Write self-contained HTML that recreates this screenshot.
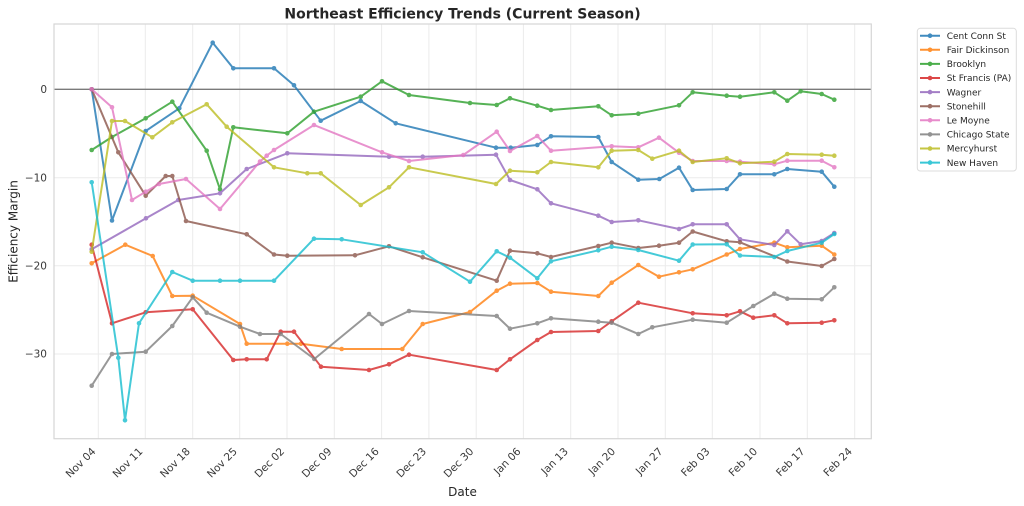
<!DOCTYPE html>
<html><head><meta charset="utf-8"><style>
html,body{margin:0;padding:0;background:#fff;}
svg{display:block;font-family:"DejaVu Sans","Liberation Sans",sans-serif;}
</style></head><body>
<svg width="1024" height="506" viewBox="0 0 1024 506" xmlns="http://www.w3.org/2000/svg">
<defs>
<marker id="mA" markerUnits="userSpaceOnUse" markerWidth="6" markerHeight="6" refX="3" refY="3"><circle cx="3" cy="3" r="2.3" fill="#1f77b4"/></marker>
<marker id="mB" markerUnits="userSpaceOnUse" markerWidth="6" markerHeight="6" refX="3" refY="3"><circle cx="3" cy="3" r="2.3" fill="#ff7f0e"/></marker>
<marker id="mC" markerUnits="userSpaceOnUse" markerWidth="6" markerHeight="6" refX="3" refY="3"><circle cx="3" cy="3" r="2.3" fill="#2ca02c"/></marker>
<marker id="mD" markerUnits="userSpaceOnUse" markerWidth="6" markerHeight="6" refX="3" refY="3"><circle cx="3" cy="3" r="2.3" fill="#d62728"/></marker>
<marker id="mE" markerUnits="userSpaceOnUse" markerWidth="6" markerHeight="6" refX="3" refY="3"><circle cx="3" cy="3" r="2.3" fill="#9467bd"/></marker>
<marker id="mF" markerUnits="userSpaceOnUse" markerWidth="6" markerHeight="6" refX="3" refY="3"><circle cx="3" cy="3" r="2.3" fill="#8c564b"/></marker>
<marker id="mG" markerUnits="userSpaceOnUse" markerWidth="6" markerHeight="6" refX="3" refY="3"><circle cx="3" cy="3" r="2.3" fill="#e377c2"/></marker>
<marker id="mH" markerUnits="userSpaceOnUse" markerWidth="6" markerHeight="6" refX="3" refY="3"><circle cx="3" cy="3" r="2.3" fill="#7f7f7f"/></marker>
<marker id="mI" markerUnits="userSpaceOnUse" markerWidth="6" markerHeight="6" refX="3" refY="3"><circle cx="3" cy="3" r="2.3" fill="#bcbd22"/></marker>
<marker id="mJ" markerUnits="userSpaceOnUse" markerWidth="6" markerHeight="6" refX="3" refY="3"><circle cx="3" cy="3" r="2.3" fill="#17becf"/></marker>
</defs>

<!-- title -->
<text x="462.5" y="18.5" text-anchor="middle" font-size="14" font-weight="bold" fill="#262626">Northeast Efficiency Trends (Current Season)</text>

<!-- grid -->
<g stroke="#ebebeb" stroke-width="1">
<line x1="98.3" y1="24" x2="98.3" y2="438.7"/>
<line x1="145.3" y1="24" x2="145.3" y2="438.7"/>
<line x1="192.7" y1="24" x2="192.7" y2="438.7"/>
<line x1="239.7" y1="24" x2="239.7" y2="438.7"/>
<line x1="287" y1="24" x2="287" y2="438.7"/>
<line x1="334.3" y1="24" x2="334.3" y2="438.7"/>
<line x1="381.6" y1="24" x2="381.6" y2="438.7"/>
<line x1="428.9" y1="24" x2="428.9" y2="438.7"/>
<line x1="476.2" y1="24" x2="476.2" y2="438.7"/>
<line x1="523.4" y1="24" x2="523.4" y2="438.7"/>
<line x1="570.7" y1="24" x2="570.7" y2="438.7"/>
<line x1="618" y1="24" x2="618" y2="438.7"/>
<line x1="665.3" y1="24" x2="665.3" y2="438.7"/>
<line x1="712.3" y1="24" x2="712.3" y2="438.7"/>
<line x1="760" y1="24" x2="760" y2="438.7"/>
<line x1="807.3" y1="24" x2="807.3" y2="438.7"/>
<line x1="854.7" y1="24" x2="854.7" y2="438.7"/>
<line x1="54" y1="177.7" x2="871.3" y2="177.7"/>
<line x1="54" y1="265.7" x2="871.3" y2="265.7"/>
<line x1="54" y1="354" x2="871.3" y2="354"/>
</g>
<line x1="54" y1="89.3" x2="871.3" y2="89.3" stroke="#7a7a7a" stroke-width="1.3"/>

<!-- spines -->
<rect x="54" y="24" width="817.3" height="414.7" fill="none" stroke="#d6d6d6" stroke-width="1.2"/>

<!-- y ticks -->
<g font-size="10.5" fill="#3a3a3a" text-anchor="end">
<text x="47" y="93">0</text>
<text x="47" y="181.4">−10</text>
<text x="47" y="269.4">−20</text>
<text x="47" y="357.7">−30</text>
</g>
<text transform="translate(17.5,231.5) rotate(-90)" text-anchor="middle" font-size="12" fill="#262626">Efficiency Margin</text>

<!-- x ticks -->
<g font-size="10.5" fill="#3a3a3a" text-anchor="end">
<text transform="translate(96.3,452) rotate(-45)">Nov 04</text>
<text transform="translate(143.3,452) rotate(-45)">Nov 11</text>
<text transform="translate(190.7,452) rotate(-45)">Nov 18</text>
<text transform="translate(237.7,452) rotate(-45)">Nov 25</text>
<text transform="translate(285,452) rotate(-45)">Dec 02</text>
<text transform="translate(332.3,452) rotate(-45)">Dec 09</text>
<text transform="translate(379.6,452) rotate(-45)">Dec 16</text>
<text transform="translate(426.9,452) rotate(-45)">Dec 23</text>
<text transform="translate(474.2,452) rotate(-45)">Dec 30</text>
<text transform="translate(521.4,452) rotate(-45)">Jan 06</text>
<text transform="translate(568.7,452) rotate(-45)">Jan 13</text>
<text transform="translate(616,452) rotate(-45)">Jan 20</text>
<text transform="translate(663.3,452) rotate(-45)">Jan 27</text>
<text transform="translate(710.3,452) rotate(-45)">Feb 03</text>
<text transform="translate(758,452) rotate(-45)">Feb 10</text>
<text transform="translate(805.3,452) rotate(-45)">Feb 17</text>
<text transform="translate(852.7,452) rotate(-45)">Feb 24</text>
</g>
<text x="462.5" y="496" text-anchor="middle" font-size="12" fill="#262626">Date</text>

<!-- series -->
<g fill="none" stroke-width="2" stroke-linejoin="round">
<g opacity="0.8"><polyline stroke="#1f77b4" marker-start="url(#mA)" marker-mid="url(#mA)" marker-end="url(#mA)" points="91.7,89.3 112,220.5 145.7,131 179.3,108.3 212.7,42.7 233.3,68.3 274,68.3 294,85.3 320.7,120.7 360.7,101 395.7,123.3 496,147.7 510.7,147.7 537.3,145 551,136.3 598.3,137 611.7,162 638.3,179.7 659.3,179 679,167.7 692.7,190 726.7,189 740,174.3 774.3,174.3 787.3,169 821.7,171.7 834.3,186.7"/></g>
<g opacity="0.8"><polyline stroke="#ff7f0e" marker-start="url(#mB)" marker-mid="url(#mB)" marker-end="url(#mB)" points="91.7,263.3 125.3,244.7 152.7,256 172.3,296 192.7,295.7 240,324 246.7,343.7 287.3,343.7 301,343.7 341.7,349 402.3,349 422.7,324 470,312 496.7,290.7 510,283.7 537.3,283 551,291.7 598.3,296 611.7,282.7 638.3,265 659,276.7 679,272.3 692.7,269.3 726.7,254.5 740,249 774.3,242.7 787.3,247.3 821.7,245.7 834.3,254.5"/></g>
<g opacity="0.8"><polyline stroke="#2ca02c" marker-start="url(#mC)" marker-mid="url(#mC)" marker-end="url(#mC)" points="91.7,150 112,137 145.7,118.3 172.3,101.7 206.7,150.7 220,189.3 233.3,127.3 287.3,133.3 314,111.7 360.7,96.7 382,81.3 409,95 470,103 496.7,105 510,98.3 537.3,105.7 551,110 598.3,106.3 611.7,115.3 638.3,113.7 679,105.3 692.7,92.3 726.7,95.7 740,96.7 774.3,92.3 787.3,100.7 800.7,91.3 821.7,94 834.3,99.7"/></g>
<g opacity="0.8"><polyline stroke="#d62728" marker-start="url(#mD)" marker-mid="url(#mD)" marker-end="url(#mD)" points="91.7,244.7 112,323.3 145.7,312.3 192.7,309.3 233.3,360 246.7,359.3 266.7,359.3 280.7,331.7 294,331.7 321,366.7 369,370 389,364.3 409,354.7 496.7,370 510,359.3 537.3,340 551,332 598.3,331 611.7,321.3 638.3,302.7 692.7,313.3 726.7,315.3 740,311.3 753.3,317.7 774.3,315.3 787.3,323.3 821.7,322.7 834.3,320.3"/></g>
<g opacity="0.8"><polyline stroke="#9467bd" marker-start="url(#mE)" marker-mid="url(#mE)" marker-end="url(#mE)" points="91.7,249.3 146,218.3 178.3,200 220,193.3 246.7,169 287.3,153.3 389,156.7 422.7,156.7 496,154.7 510,180 537.3,189.3 551,203.3 598.3,215.7 611.7,222 638.3,220.3 679,229 692.7,224.3 726.7,224.3 740,239.3 774.3,245 787.3,231.3 800.7,244.3 821.7,241 834.3,233"/></g>
<g opacity="0.8"><polyline stroke="#8c564b" marker-start="url(#mF)" marker-mid="url(#mF)" marker-end="url(#mF)" points="91.7,89.3 118.3,152.3 145.7,195.7 165.7,176 172.3,176 186,221 246.7,234.3 274,254.5 287.3,255.7 355,255.3 389,246.3 422.7,257.3 496.7,280.7 510,250.7 537.3,253.3 551,257 598.3,246 611.7,242.7 638.3,248 659,245.7 679,242.7 692.7,231.5 726.7,241.3 740,242.3 787.3,261.5 821.7,266 834.3,259"/></g>
<g opacity="0.8"><polyline stroke="#e377c2" marker-start="url(#mG)" marker-mid="url(#mG)" marker-end="url(#mG)" points="91.7,89.3 112,107.3 132,200 145.7,191.7 159,184 186,179 220,209 260,161.5 266.7,155.7 274,150 314,125 382,152.3 409,161 463.3,155 496.7,131.7 510,151 537.3,136 551,150.7 611.7,146.3 638.3,147.3 659,137.7 679,152.7 692.7,161 726.7,161 740,161.7 774.3,164.3 787.3,160.7 821.7,160.7 834.3,167.3"/></g>
<g opacity="0.8"><polyline stroke="#7f7f7f" marker-start="url(#mH)" marker-mid="url(#mH)" marker-end="url(#mH)" points="91.7,385.7 112,354 145.7,351.7 172.3,326 192.7,297.3 206.7,312.7 240,326.7 260,334 280.7,334 314.3,359 369,314 382,324 409,311 496.7,316 510,328.7 537.3,323.3 551,318.3 598.3,321.7 611.7,322.7 638.3,334 652.3,327.3 692.7,319.7 726.7,322.7 753.3,306 774.3,293.7 787.3,298.7 821.7,299.3 834.3,287.3"/></g>
<g opacity="0.8"><polyline stroke="#bcbd22" marker-start="url(#mI)" marker-mid="url(#mI)" marker-end="url(#mI)" points="91.7,251.7 112,121 125,121 152.3,137.3 172.3,122.3 206.7,104.3 226.7,126.7 274,167.3 307.3,173.3 320.7,173.3 360.7,205 389,187.3 409,167.3 496,184 510,170.7 537.3,172.3 551,162 598.3,167.3 611.7,150.7 638.3,150 652.3,158.7 679,150.7 692.7,162 726.7,158.3 740,163.3 774.3,161.7 787.3,154 821.7,154.7 834.3,155.7"/></g>
<g opacity="0.8"><polyline stroke="#17becf" marker-start="url(#mJ)" marker-mid="url(#mJ)" marker-end="url(#mJ)" points="91.7,182.3 118.3,357.7 125,420.3 139,323.3 172.3,272 192.7,280.7 220,280.7 240,280.7 274,280.7 314,238.7 341.7,239.3 422.7,252.3 470,281.7 496.7,251.3 510,257.7 537.3,278.3 551,261.3 598.3,250.3 611.7,246.7 638.3,250 679,260.7 692.7,244.5 726.7,244.3 740,255.5 774.3,257 787.3,251 821.7,242.7 834.3,234"/></g>
</g>

<!-- legend -->
<rect x="917.3" y="28.3" width="99" height="142.7" rx="3" fill="#fff" stroke="#dcdcdc" stroke-width="1"/>
<g stroke-width="2" opacity="0.85">
<line x1="920" y1="35.7" x2="940" y2="35.7" stroke="#1f77b4"/><circle cx="930" cy="35.7" r="2.3" fill="#1f77b4"/>
<line x1="920" y1="49.8" x2="940" y2="49.8" stroke="#ff7f0e"/><circle cx="930" cy="49.8" r="2.3" fill="#ff7f0e"/>
<line x1="920" y1="63.9" x2="940" y2="63.9" stroke="#2ca02c"/><circle cx="930" cy="63.9" r="2.3" fill="#2ca02c"/>
<line x1="920" y1="78" x2="940" y2="78" stroke="#d62728"/><circle cx="930" cy="78" r="2.3" fill="#d62728"/>
<line x1="920" y1="92.1" x2="940" y2="92.1" stroke="#9467bd"/><circle cx="930" cy="92.1" r="2.3" fill="#9467bd"/>
<line x1="920" y1="106.2" x2="940" y2="106.2" stroke="#8c564b"/><circle cx="930" cy="106.2" r="2.3" fill="#8c564b"/>
<line x1="920" y1="120.3" x2="940" y2="120.3" stroke="#e377c2"/><circle cx="930" cy="120.3" r="2.3" fill="#e377c2"/>
<line x1="920" y1="134.4" x2="940" y2="134.4" stroke="#7f7f7f"/><circle cx="930" cy="134.4" r="2.3" fill="#7f7f7f"/>
<line x1="920" y1="148.5" x2="940" y2="148.5" stroke="#bcbd22"/><circle cx="930" cy="148.5" r="2.3" fill="#bcbd22"/>
<line x1="920" y1="162.6" x2="940" y2="162.6" stroke="#17becf"/><circle cx="930" cy="162.6" r="2.3" fill="#17becf"/>
</g>
<g font-size="9" fill="#262626">
<text x="946.7" y="38.9">Cent Conn St</text>
<text x="946.7" y="53">Fair Dickinson</text>
<text x="946.7" y="67.1">Brooklyn</text>
<text x="946.7" y="81.2">St Francis (PA)</text>
<text x="946.7" y="95.3">Wagner</text>
<text x="946.7" y="109.4">Stonehill</text>
<text x="946.7" y="123.5">Le Moyne</text>
<text x="946.7" y="137.6">Chicago State</text>
<text x="946.7" y="151.7">Mercyhurst</text>
<text x="946.7" y="165.8">New Haven</text>
</g>
</svg>
</body></html>
